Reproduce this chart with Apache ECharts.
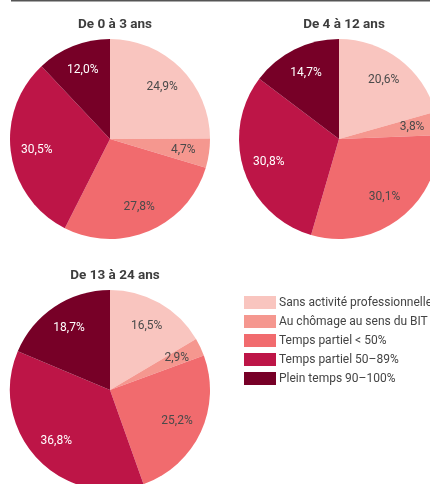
<!DOCTYPE html>
<html><head><meta charset="utf-8">
<script src="https://cdn.jsdelivr.net/npm/echarts@6/dist/echarts.min.js"></script>
<style>html,body{margin:0;padding:0;background:#fff}#c{width:430px;height:484px}</style>
</head><body><div id="c"></div>
<script>
const categories = ['Sans activité professionnelle','Au chômage au sens du BIT','Temps partiel < 50%','Temps partiel 50–89%','Plein temps 90–100%'];
const colors = ['#f9c5bf','#f5978f','#f16b6e','#bd1547','#770027'];
const labelColors = ['#4a4a4a','#4a4a4a','#4a4a4a','#ffffff','#ffffff'];
const titles = ['De 0 à 3 ans','De 4 à 12 ans','De 13 à 24 ans'];
const age0_3 = [24.9, 4.7, 27.8, 30.5, 12.0];
const age4_12 = [20.6, 3.8, 30.1, 30.8, 14.7];
const age13_24 = [16.5, 2.9, 25.2, 36.8, 18.7];
const groups = [age0_3, age4_12, age13_24];
const centers = [[110,139],[339,139],[110,390]];

const fmt = v => v.toFixed(1).replace('.', ',') + '%';
const series = [];
groups.forEach((vals, g) => {
  series.push({
    type:'pie', center:centers[g], radius:[0,100], startAngle:90, clockwise:true,
    silent:true, animation:false,
    label:{show:false}, labelLine:{show:false},
    data: vals.map((v,i)=>({name:categories[i], value:v, itemStyle:{color:colors[i]}}))
  });
});
groups.forEach((vals, g) => {
  series.push({
    type:'pie', center:centers[g], radius:[42,100], startAngle:90, clockwise:true,
    silent:true, animation:false, legendHoverLink:false,
    itemStyle:{color:'rgba(0,0,0,0)'},
    label:{show:true, position:'inside', fontFamily:'Roboto', fontSize:12,
      formatter:p=>fmt(p.value)},
    labelLine:{show:false},
    data: vals.map((v,i)=>({name:categories[i]+' ', value:v, itemStyle:{color:'rgba(0,0,0,0)'}, label:{color:labelColors[i]}}))
  });
});

const chart = echarts.init(document.getElementById('c'), null, {renderer:'canvas'});
chart.setOption({
  animation:false,
  title: titles.map((t,g)=>({text:t, left:centers[g][0], top:centers[g][1]-126, textAlign:'center',
    textStyle:{fontFamily:'Roboto', fontSize:13.5, fontWeight:'bold', color:'#3d3d3d'}})),
  legend:{left:239, top:291, orient:'vertical', itemWidth:32, itemHeight:13, itemGap:6,
    icon:'rect', selectedMode:false, data:categories,
    textStyle:{fontFamily:'Roboto', fontSize:12, color:'#444', padding:[0,0,0,-2]}},
  graphic:[{type:'line', shape:{x1:11,y1:0.5,x2:430,y2:0.5}, style:{stroke:'#555', lineWidth:2}}],
  series: series
});
</script></body></html>
